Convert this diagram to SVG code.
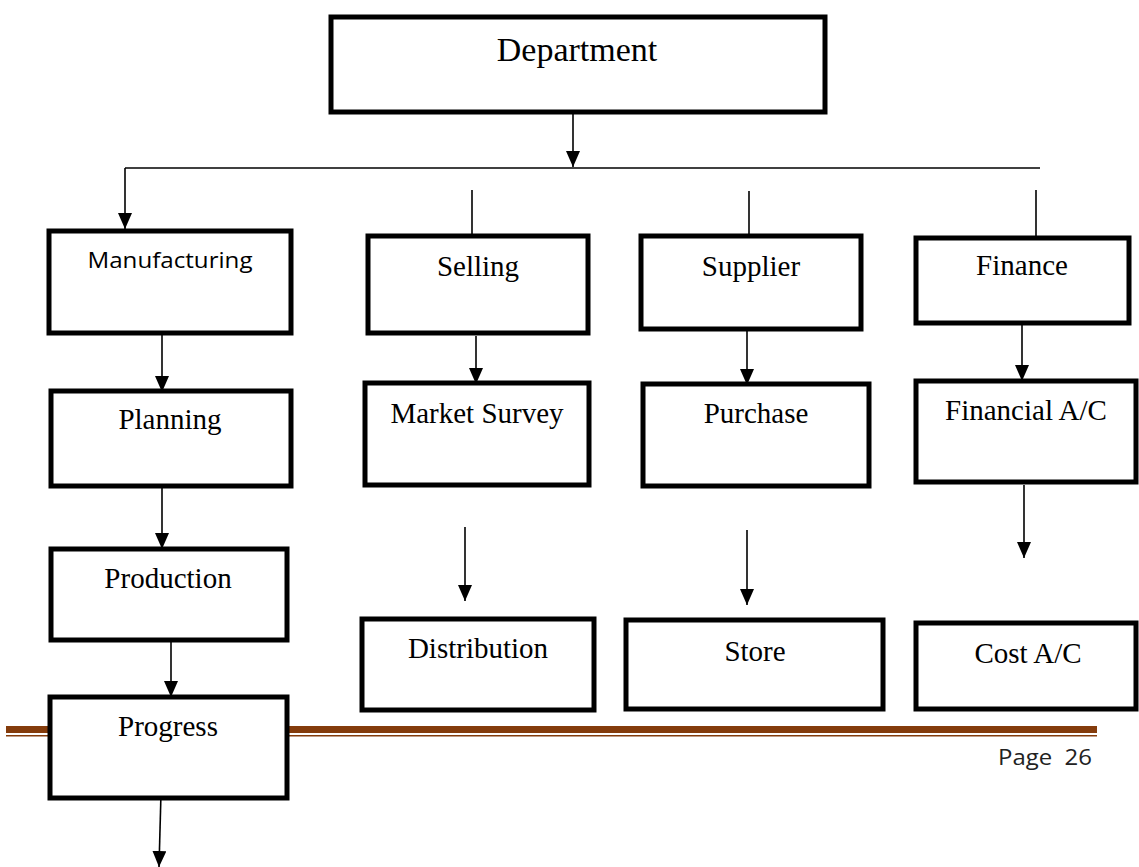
<svg xmlns="http://www.w3.org/2000/svg" width="1139" height="867" viewBox="0 0 1139 867">
<style>
.box{fill:#fff;stroke:#000;stroke-width:5}
.t{font-family:"Liberation Serif",serif;font-size:29px;text-anchor:middle;fill:#000}
.s{font-family:"Open Sans","Liberation Sans",sans-serif;font-size:22px;text-anchor:middle;fill:#000}
.c{stroke:#000;stroke-width:1.6;fill:none}
</style>
<defs>
<marker id="ah2" markerWidth="16" markerHeight="14" refX="16" refY="7" orient="auto" markerUnits="userSpaceOnUse">
<path d="M0,0 L16,7 L0,14 Z" fill="#000"/>
</marker>
</defs>
<g id="footer">
<rect x="6" y="726" width="1091" height="7" fill="#843c0c"/>
<rect x="6" y="735" width="1091" height="1.5" fill="#843c0c"/>
<text x="998" y="765" textLength="94" lengthAdjust="spacingAndGlyphs" xml:space="preserve" style="font-family:'Open Sans','Liberation Sans',sans-serif;font-size:22px;fill:#222">Page  26</text>
</g>
<g id="connectors">
<line class="c" x1="573" y1="113" x2="573" y2="167" marker-end="url(#ah2)"/>
<line class="c" x1="125" y1="168" x2="1040" y2="168"/>
<line class="c" x1="125" y1="168" x2="125" y2="229" marker-end="url(#ah2)"/>
<line class="c" x1="472" y1="190" x2="472" y2="235"/>
<line class="c" x1="749" y1="191" x2="749" y2="235"/>
<line class="c" x1="1036" y1="190" x2="1036" y2="256" marker-end="url(#ah2)"/>
<line class="c" x1="162" y1="334" x2="162" y2="392" marker-end="url(#ah2)"/>
<line class="c" x1="476" y1="336" x2="476" y2="384" marker-end="url(#ah2)"/>
<line class="c" x1="747" y1="325" x2="747" y2="385" marker-end="url(#ah2)"/>
<line class="c" x1="1022" y1="324" x2="1022" y2="381" marker-end="url(#ah2)"/>
<line class="c" x1="162" y1="487" x2="162" y2="549" marker-end="url(#ah2)"/>
<line class="c" x1="171" y1="631" x2="171" y2="697" marker-end="url(#ah2)"/>
<line class="c" x1="161" y1="793" x2="159" y2="867" marker-end="url(#ah2)"/>
<line class="c" x1="465" y1="527" x2="465" y2="601" marker-end="url(#ah2)"/>
<line class="c" x1="747" y1="530" x2="747" y2="605" marker-end="url(#ah2)"/>
<line class="c" x1="1024" y1="485" x2="1024" y2="558" marker-end="url(#ah2)"/>
</g>
<g id="department"><rect class="box" x="331" y="17" width="494" height="95"/><text class="t" x="577" y="61" style="font-size:34px">Department</text></g>
<g id="manufacturing"><rect class="box" x="49" y="231" width="242" height="102"/><text class="s" x="170" y="268" textLength="165" lengthAdjust="spacingAndGlyphs">Manufacturing</text></g>
<g id="selling"><rect class="box" x="368" y="236" width="220" height="97"/><text class="t" x="478" y="276">Selling</text></g>
<g id="supplier"><rect class="box" x="641" y="236" width="220" height="93"/><text class="t" x="751" y="276">Supplier</text></g>
<g id="finance"><rect class="box" x="916" y="238" width="213" height="85"/><text class="t" x="1022" y="275">Finance</text></g>
<g id="planning"><rect class="box" x="51" y="391" width="240" height="95"/><text class="t" x="170" y="429">Planning</text></g>
<g id="market-survey"><rect class="box" x="365" y="383" width="224" height="102"/><text class="t" x="477" y="423">Market Survey</text></g>
<g id="purchase"><rect class="box" x="643" y="384" width="226" height="102"/><text class="t" x="756" y="423">Purchase</text></g>
<g id="financial-ac"><rect class="box" x="916" y="381" width="220" height="101"/><text class="t" x="1026" y="420">Financial A/C</text></g>
<g id="production"><rect class="box" x="51" y="549" width="236" height="91"/><text class="t" x="168" y="588">Production</text></g>
<g id="progress"><rect class="box" x="50" y="697" width="237" height="101"/><text class="t" x="168" y="736">Progress</text></g>
<g id="distribution"><rect class="box" x="362" y="619" width="232" height="91"/><text class="t" x="478" y="658">Distribution</text></g>
<g id="store"><rect class="box" x="626" y="620" width="257" height="89"/><text class="t" x="755" y="661">Store</text></g>
<g id="cost-ac"><rect class="box" x="916" y="623" width="220" height="86"/><text class="t" x="1028" y="663">Cost A/C</text></g>
</svg>
